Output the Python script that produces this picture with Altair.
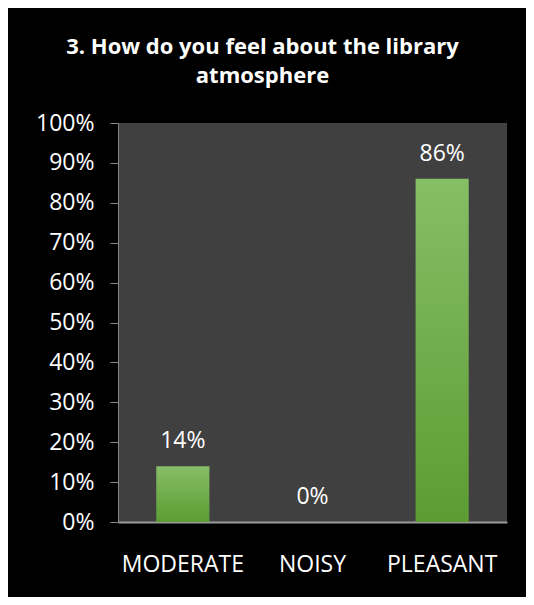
import altair as alt
import pandas as pd

categories = ["MODERATE", "NOISY", "PLEASANT"]
values = [0.14, 0.0, 0.86]
labels = ["14%", "0%", "86%"]
y_ticks = [0, 0.1, 0.2, 0.3, 0.4, 0.5, 0.6, 0.7, 0.8, 0.9, 1.0]

df = pd.DataFrame({"cat": categories, "val": values, "lab": labels})

FONT = "Open Sans"
AXIS_GRAY = "#868686"

x_enc = alt.X(
    "cat:N",
    sort=categories,
    scale=alt.Scale(paddingInner=0.59, paddingOuter=0.295),
    axis=alt.Axis(
        title=None,
        labelAngle=0,
        ticks=False,
        labelPadding=31,
        labelFontSize=23,
        labelFont=FONT,
        labelColor="white",
        domainColor="#9a9a9a",
        domainWidth=2,
    ),
)
y_enc = alt.Y(
    "val:Q",
    scale=alt.Scale(domain=[0, 1]),
    axis=alt.Axis(
        title=None,
        values=y_ticks,
        tickCount=11,
        format=".0%",
        grid=False,
        labelOverlap=False,
        tickSize=8,
        tickColor=AXIS_GRAY,
        domainColor=AXIS_GRAY,
        labelPadding=16,
        labelFontSize=23,
        labelFont=FONT,
        labelColor="white",
    ),
)

grad = alt.Gradient(
    gradient="linear",
    stops=[
        alt.GradientStop(color="#86be66", offset=0),
        alt.GradientStop(color="#5c9c33", offset=1),
    ],
    x1=0, x2=0, y1=0, y2=1,
)

bars = alt.Chart(df).mark_bar(color=grad).encode(x=x_enc, y=y_enc)

text = alt.Chart(df).mark_text(
    dy=-18, baseline="alphabetic", align="center",
    fontSize=23, font=FONT, color="white",
).encode(x=x_enc, y=y_enc, text="lab:N")

chart = (
    alt.layer(bars, text)
    .properties(
        width=389,
        height=399,
        padding={"left": 110, "top": 115, "right": 19, "bottom": 75},
        autosize=alt.AutoSizeParams(type="none"),
        background="black",
        title=alt.TitleParams(
            text=["3. How do you feel about the library", "atmosphere"],
            font=FONT,
            fontSize=22,
            fontWeight="bold",
            color="white",
            anchor="middle",
            frame="group",
            dx=-50,
            offset=24,
            lineHeight=29,
        ),
    )
    .configure_view(fill="#404040", stroke=None)
)

chart.save("out.html", embed_options={"renderer": "svg", "actions": False})
